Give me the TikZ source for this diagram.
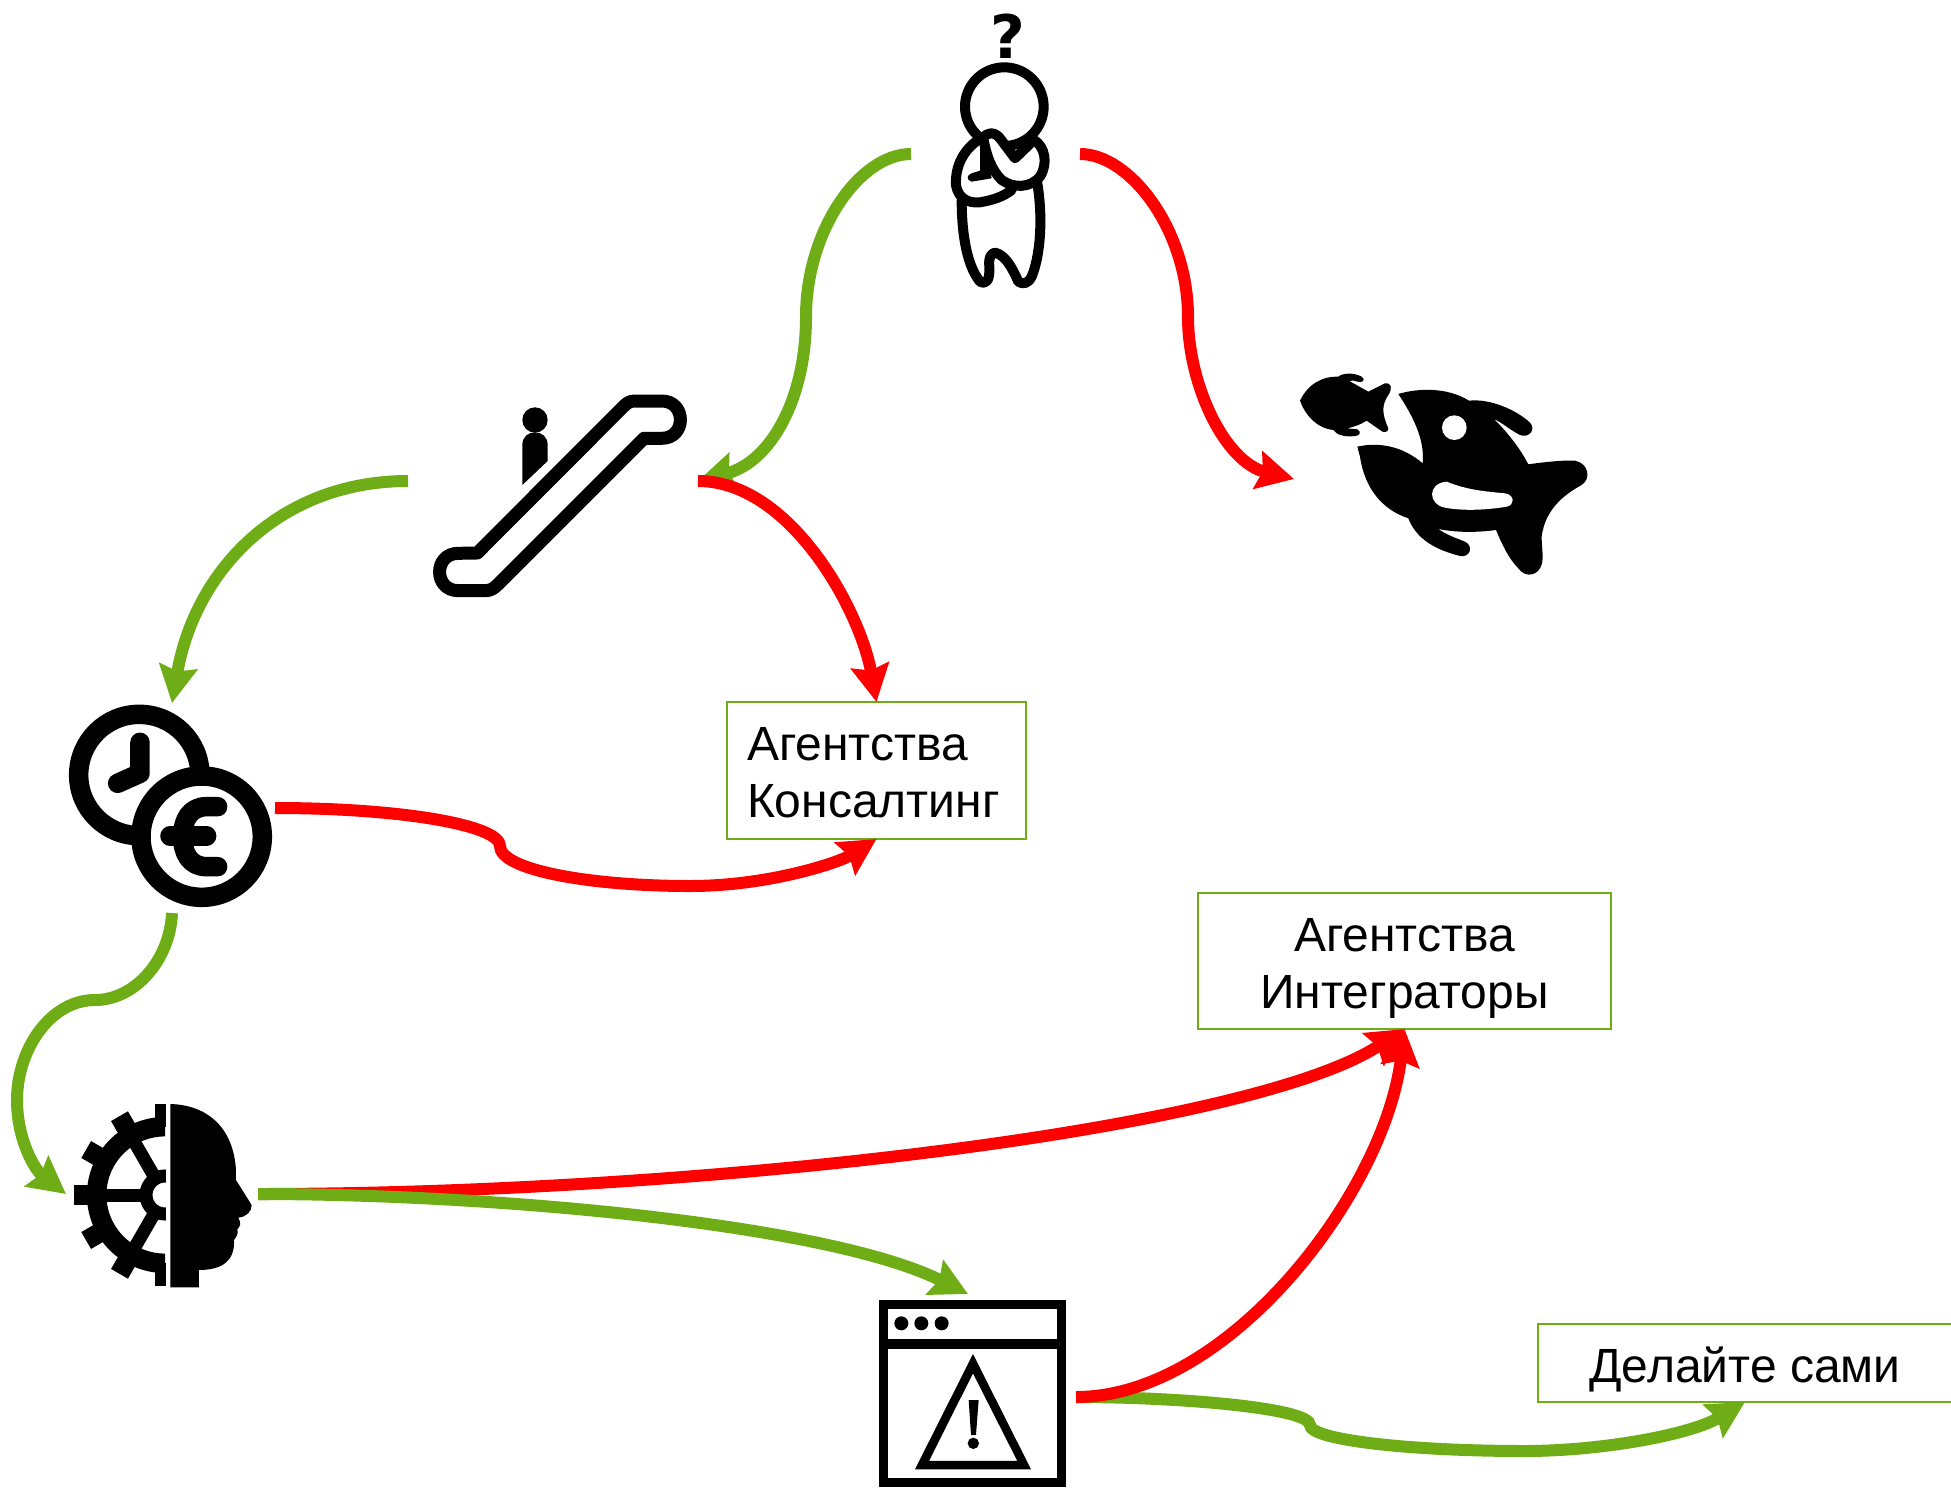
\documentclass[tikz,border=0pt]{standalone}
\usepackage{fontspec}
\usepackage{xcolor}
\setmainfont{Liberation Sans}
\newfontfamily\markfont{DejaVu Sans}
\usetikzlibrary{arrows.meta}
\definecolor{leafgreen}{HTML}{6EAD16}
\tikzset{
    every node/.style={font=\fontsize{48}{57}\selectfont, inner sep=0pt, outer sep=0pt},
    textbox/.style={draw=leafgreen, line width=2pt, fill=white},
    icon/.style={minimum width=#1, minimum height=210},
    goodpath/.style={draw=leafgreen, line width=12pt, -{Stealth[length=37pt,width=38pt,inset=5pt]}},
    badpath/.style={draw=red, line width=12pt, -{Stealth[length=37pt,width=38pt,inset=5pt]}},
    zoomed/.style={x=0.3333pt, y=-0.3333pt}
}

\begin{document}
\begin{tikzpicture}[x=1pt,y=-1pt]
    \useasboundingbox (0,0) rectangle (1951,1493);

    % Anchors of the icons
    \node[icon=169] (person) at (995.5,154) {};
    \node[icon=290] (stairs) at (553,481) {};
    \node[icon=596] (orca) at (1592,479) {};
    \node[icon=206] (money) at (172,808) {};
    \node[icon=192] (brain) at (162,1194) {};
    \node[minimum width=216, minimum height=206] (window) at (968,1397) {};

    % Text boxes
    \node[textbox, align=left, text width=259pt, text height=0pt, text depth=21pt, minimum width=299, minimum height=137] (consult) at (876.5,770.5) {Агентства\\Консалтинг};
    \node[textbox, align=center, text height=95pt, text depth=0pt, minimum width=413, minimum height=136] (integr) at (1404.5,961) {Агентства\\Интеграторы};
    \node[textbox, text height=38pt, text depth=0pt, minimum width=414, minimum height=78] (diy) at (1745,1363) {Делайте сами};

    % Thinking person
    \node[font=\markfont\bfseries\fontsize{60}{60}\selectfont] (question) at (1008,36) {?};
    \begin{scope}[shift={(880,0)}, zoomed, line width=10pt, line cap=round, line join=round]
        \draw (373,320) circle (118);
        \draw (245,600) .. controls (245,680) and (255,790) .. (300,845) .. controls (320,855) and (330,840) .. (328,800) .. controls (325,770) and (335,760) .. (345,758) .. controls (375,765) and (395,800) .. (415,845) .. controls (430,855) and (445,850) .. (455,830) .. controls (480,770) and (490,660) .. (472,550);
        \draw[fill=white] (295,420) .. controls (250,450) and (225,500) .. (228,555) .. controls (235,600) and (270,610) .. (300,607) .. controls (340,600) and (370,590) .. (395,570);
        \fill (300,425) -- (315,425) -- (335,535) -- (275,545) .. controls (258,540) and (260,525) .. (275,520) -- (300,512) -- cycle;
        \draw[fill=white] (310,415) .. controls (320,395) and (345,395) .. (360,415) -- (405,475) -- (462,420) .. controls (495,440) and (505,490) .. (480,530) .. controls (450,565) and (400,565) .. (365,540) .. controls (335,510) and (320,470) .. (310,415);
    \end{scope}

    % Escalator
    \begin{scope}[shift={(420,380)}, zoomed]
        \draw[line width=13pt, line join=round] (172,519) -- (610,80) .. controls (622,68) and (630,63) .. (645,63) -- (725,63) .. controls (800,63) and (800,175) .. (725,175) -- (672,175) -- (232,615) .. controls (220,627) and (210,632) .. (195,632) -- (115,632) .. controls (40,632) and (40,520) .. (115,520) -- cycle;
        \fill (345,120) circle (38);
        \fill (307,315) -- (307,195) .. controls (307,170) and (325,157) .. (345,157) .. controls (365,157) and (383,170) .. (383,195) -- (383,243) -- cycle;
    \end{scope}

    % Orca and small fish
    \begin{scope}[shift={(1270,350)}, zoomed]
        \fill (90,152) .. controls (115,100) and (160,78) .. (205,80) .. controls (215,70) and (250,66) .. (275,80) .. controls (290,90) and (275,100) .. (262,95) .. controls (255,92) and (245,90) .. (238,93) -- (295,125) -- (345,100) .. controls (365,98) and (368,115) .. (355,135) .. controls (335,165) and (335,190) .. (355,235) .. controls (355,248) and (340,250) .. (330,240) -- (290,212) .. controls (275,222) and (250,232) .. (230,235) -- (262,238) .. controls (275,245) and (270,258) .. (255,258) .. controls (225,262) and (200,255) .. (190,240) .. controls (140,235) and (105,195) .. (90,152) -- cycle;
        \fill (385,132) .. controls (440,115) and (530,110) .. (597,152) .. controls (660,145) and (740,180) .. (780,218) .. controls (800,240) and (775,265) .. (750,255) .. controls (720,240) and (700,220) .. (672,207) .. controls (715,250) and (750,295) .. (775,343) .. controls (830,335) and (890,330) .. (915,332) .. controls (955,340) and (965,385) .. (935,405) .. controls (880,435) and (825,480) .. (815,560) .. controls (815,590) and (820,610) .. (817,635) .. controls (810,680) and (765,685) .. (745,655) .. controls (715,625) and (695,580) .. (678,540) .. controls (620,548) and (560,548) .. (505,537) .. controls (530,555) and (560,565) .. (580,573) .. controls (615,585) and (600,625) .. (570,618) .. controls (500,600) and (440,570) .. (415,505) .. controls (340,480) and (285,420) .. (270,320) -- (262,290) .. controls (330,275) and (400,290) .. (458,340) .. controls (465,270) and (430,200) .. (385,132) -- cycle;
        \fill[white] (553,233) circle (37);
        \fill[white] (530,395) .. controls (590,420) and (650,425) .. (705,430) .. controls (735,435) and (735,465) .. (710,470) .. controls (640,482) and (570,482) .. (525,473) .. controls (475,465) and (470,400) .. (530,395) -- cycle;
    \end{scope}

    % Clock and euro coin
    \begin{scope}[shift={(50,690)}, zoomed, line width=19.5pt, line cap=round, line join=round]
        \draw (268,255) circle (182);
        \draw (270,157) -- (270,250) -- (203,280);
        \draw[fill=white] (455,440) circle (182);
        \draw (503,350) -- (470,350) .. controls (420,350) and (398,390) .. (398,440) .. controls (398,490) and (420,530) .. (470,530) -- (503,530);
        \draw (360,438) -- (470,438);
    \end{scope}

    % Gear and head
    \begin{scope}[shift={(50,1080)}, zoomed]
        \begin{scope}
            \clip (0,0) rectangle (348,700);
            \draw[line width=19.5pt] (345,345) ++(90:205) arc (90:270:205);
            \draw[line width=13pt] (345,345) circle (57);
            \foreach \ang in {90,120,...,270} {
                \draw[line width=19.5pt] (345,345) ++(\ang:205) -- ++(\ang:68);
            }
            \foreach \ang in {120,180,240} {
                \draw[line width=13pt] (345,345) ++(\ang:60) -- ++(\ang:150);
            }
        \end{scope}
        \fill (361,72) .. controls (470,75) and (550,140) .. (558,270) -- (558,300) -- (605,375) .. controls (605,395) and (590,410) .. (565,413) .. controls (575,430) and (570,440) .. (562,448) .. controls (566,460) and (560,470) .. (552,480) .. controls (555,540) and (520,570) .. (447,570) -- (447,622) -- (361,622) -- cycle;
    \end{scope}

    % Browser window with warning
    \begin{scope}[shift={(860,1280)}, zoomed]
        \draw[line width=9.2pt] (70,73) rectangle (604,607);
        \draw[line width=9.2pt] (70,192) -- (604,192);
        \foreach \dotx in {124,184,245} {
            \fill (\dotx,130) circle (21);
        }
        \fill[even odd rule] (339,222) -- (513,568) -- (165,568) -- cycle (339,280) -- (207,543) -- (472,543) -- cycle;
        \fill (326,360) -- (356,360) -- (348,465) -- (333,465) -- cycle;
        \fill (340,490) circle (17);
    \end{scope}

    % Connectors
    \draw[goodpath] (person.west) .. controls (860,154) and (806,230) .. (806,317) .. controls (806,400) and (770,462) .. (stairs.east);
    \draw[badpath] (person.east) .. controls (1130,154) and (1188,230) .. (1188,317) .. controls (1188,385) and (1225,462) .. (orca.west);
    \draw[goodpath] (stairs.west) .. controls (280,481) and (195,570) .. (money.north);
    \draw[badpath] (stairs.east) .. controls (790,481) and (860,610) .. (consult.north);
    \draw[badpath] (money.east) .. controls (400,808) and (500,825) .. (500,846) .. controls (500,870) and (590,886) .. (690,886) .. controls (770,886) and (840,862) .. (consult.south);
    \draw[goodpath] (money.south) .. controls (170,960) and (135,1000) .. (95,1000) .. controls (50,1000) and (17,1050) .. (17,1100) .. controls (17,1140) and (35,1170) .. (brain.west);
    \draw[badpath] (brain.east) .. controls (700,1194) and (1250,1130) .. (integr.south);
    \draw[goodpath] (brain.east) .. controls (500,1194) and (830,1225) .. (window.north);
    \draw[goodpath] (window.east) .. controls (1180,1397) and (1310,1408) .. (1310,1425) .. controls (1310,1440) and (1410,1451) .. (1525,1451) .. controls (1600,1451) and (1690,1435) .. (diy.south);
    \draw[badpath] (window.east) .. controls (1230,1397) and (1385,1190) .. (integr.south);
\end{tikzpicture}
\end{document}
